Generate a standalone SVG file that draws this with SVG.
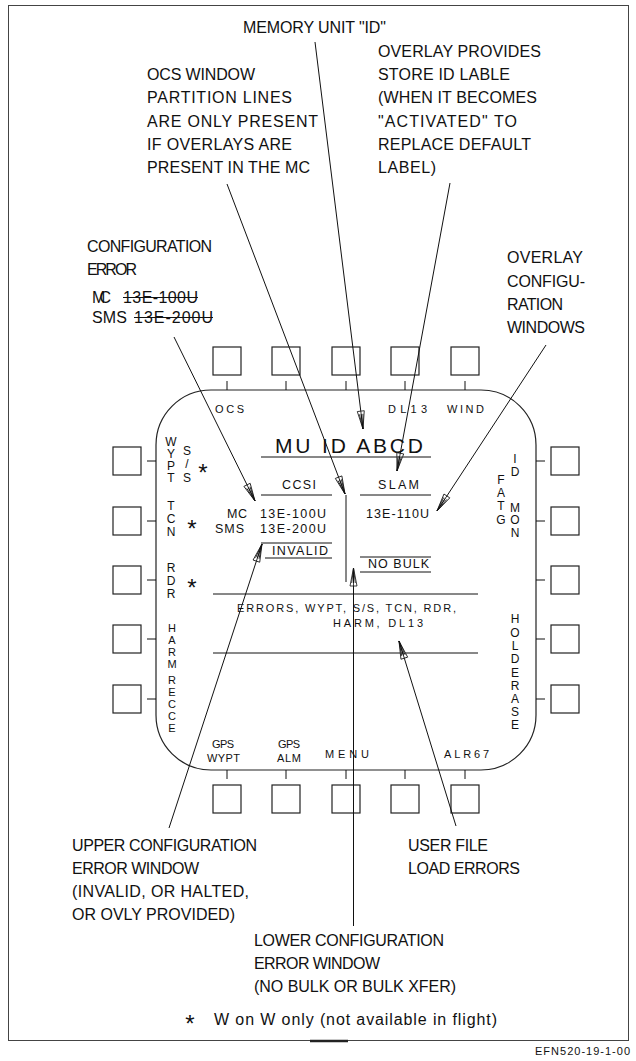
<svg xmlns="http://www.w3.org/2000/svg" width="636" height="1061" viewBox="0 0 636 1061">
<style>
text{font-family:"Liberation Sans",Arial,sans-serif;fill:#111}
.a{font-size:16px}
.s{font-size:11px}
.m{font-size:12.5px}
.v{font-size:12px;text-anchor:middle}
.v2{font-size:11px;text-anchor:middle}
.st{font-size:24px;text-anchor:middle}
.ln{stroke:#111;stroke-width:1;fill:none}
.btn{fill:#fff;stroke:#222;stroke-width:1.2}
.ld{stroke:#111;stroke-width:1;fill:none}
</style>
<defs>
<marker id="ah" markerUnits="userSpaceOnUse" markerWidth="22" markerHeight="10" viewBox="-20 -5 22 10" refX="0" refY="0" orient="auto">
<path d="M0,0 L-18,-3.5 L-18,3.5 Z M-18,0 L0,0 M-15,-1.8 L0,0 L-15,1.8" fill="#fff" stroke="#111" stroke-width="0.8"/>
</marker>
</defs>
<rect x="0" y="0" width="636" height="1061" fill="#fff"/>
<g id="frame">
<rect x="8.5" y="5.5" width="620" height="1035" fill="none" stroke="#444" stroke-width="1"/>
<line x1="310" y1="1041" x2="348" y2="1041" stroke="#222" stroke-width="2.5"/>
<text x="535" y="1055" class="s" textLength="95">EFN520-19-1-00</text>
</g>
<g id="note-memory-unit">
<text x="243" y="33" class="a" textLength="143">MEMORY UNIT "ID"</text>
</g>
<g id="note-overlay-provides">
<text x="378" y="57" class="a" textLength="163">OVERLAY PROVIDES</text>
<text x="378" y="80" class="a" textLength="132">STORE ID LABLE</text>
<text x="378" y="103" class="a" textLength="159">(WHEN IT BECOMES</text>
<text x="378" y="127" class="a" textLength="139">"ACTIVATED" TO</text>
<text x="378" y="150" class="a" textLength="153">REPLACE DEFAULT</text>
<text x="378" y="173" class="a" textLength="58">LABEL)</text>
</g>
<g id="note-ocs-window">
<text x="147" y="80" class="a" textLength="108">OCS WINDOW</text>
<text x="147" y="103" class="a" textLength="145">PARTITION LINES</text>
<text x="147" y="127" class="a" textLength="171">ARE ONLY PRESENT</text>
<text x="147" y="150" class="a" textLength="145">IF OVERLAYS ARE</text>
<text x="147" y="173" class="a" textLength="163">PRESENT IN THE MC</text>
</g>
<g id="note-config-error">
<text x="87" y="252" class="a" textLength="125">CONFIGURATION</text>
<text x="87" y="275" class="a" textLength="50">ERROR</text>
<text x="92" y="303" class="a" textLength="19">MC</text>
<text x="123" y="303" class="a" textLength="75">13E-100U</text>
<line x1="123" y1="297.5" x2="198" y2="297.5" class="ln"/>
<text x="92" y="323" class="a" textLength="35">SMS</text>
<text x="134" y="323" class="a" textLength="79">13E-200U</text>
<line x1="134" y1="317.5" x2="213" y2="317.5" class="ln"/>
</g>
<g id="note-overlay-config">
<text x="507" y="263" class="a" textLength="76">OVERLAY</text>
<text x="507" y="287" class="a" textLength="78">CONFIGU-</text>
<text x="507" y="310" class="a" textLength="56">RATION</text>
<text x="507" y="333" class="a" textLength="78">WINDOWS</text>
</g>
<g id="display">
<rect x="156" y="390" width="380" height="380" rx="55" ry="55" fill="none" stroke="#222" stroke-width="1.2"/>
<text x="215" y="413" class="s" textLength="29">OCS</text>
<text x="388" y="413" class="s" textLength="39">DL13</text>
<text x="447" y="413" class="s" textLength="37">WIND</text>
<text x="275" y="453" font-size="21" textLength="148">MU ID ABCD</text>
<line x1="261" y1="457" x2="431" y2="457" class="ln"/>
<text x="282" y="489" class="m" textLength="34">CCSI</text>
<text x="378" y="489" class="m" textLength="41">SLAM</text>
<line x1="261" y1="495" x2="332" y2="495" class="ln"/>
<line x1="360" y1="495" x2="431" y2="495" class="ln"/>
<line x1="346" y1="495" x2="346" y2="582" class="ln"/>
<text x="227" y="518" class="m" textLength="20">MC</text>
<text x="215" y="533" class="m" textLength="29">SMS</text>
<text x="260" y="518" class="m" textLength="66">13E-100U</text>
<text x="260" y="533" class="m" textLength="66">13E-200U</text>
<text x="366" y="518" class="m" textLength="63">13E-110U</text>
<line x1="261" y1="543" x2="332" y2="543" class="ln"/>
<text x="272" y="555" class="m" textLength="56">INVALID</text>
<line x1="265" y1="558" x2="332" y2="558" class="ln"/>
<line x1="360" y1="557" x2="431" y2="557" class="ln"/>
<text x="368" y="568" class="m" textLength="61">NO BULK</text>
<line x1="360" y1="572" x2="431" y2="572" class="ln"/>
<line x1="213" y1="594" x2="478" y2="594" class="ln"/>
<text x="237" y="612" class="s" textLength="219">ERRORS, WYPT, S/S, TCN, RDR,</text>
<text x="333" y="627" class="s" textLength="90">HARM, DL13</text>
<line x1="213" y1="653" x2="478" y2="653" class="ln"/>
<text class="v"><tspan x="171" y="446">W</tspan><tspan x="171" y="458">Y</tspan><tspan x="171" y="470">P</tspan><tspan x="171" y="482">T</tspan></text>
<text class="v"><tspan x="187" y="455">S</tspan><tspan x="187" y="468">/</tspan><tspan x="187" y="482">S</tspan></text>
<text x="203" y="480.5" class="st">*</text>
<text class="v"><tspan x="171" y="510">T</tspan><tspan x="171" y="523">C</tspan><tspan x="171" y="536">N</tspan></text>
<text x="192" y="536.5" class="st">*</text>
<text class="v"><tspan x="171" y="572">R</tspan><tspan x="171" y="585">D</tspan><tspan x="171" y="598">R</tspan></text>
<text x="192" y="595.5" class="st">*</text>
<text class="v2"><tspan x="172" y="632">H</tspan><tspan x="172" y="644">A</tspan><tspan x="172" y="656">R</tspan><tspan x="172" y="668">M</tspan></text>
<text class="v2"><tspan x="172" y="684">R</tspan><tspan x="172" y="696">E</tspan><tspan x="172" y="708">C</tspan><tspan x="172" y="720">C</tspan><tspan x="172" y="732">E</tspan></text>
<text class="v"><tspan x="515" y="463">I</tspan><tspan x="515" y="476">D</tspan></text>
<text class="v"><tspan x="501" y="484">F</tspan><tspan x="501" y="497">A</tspan><tspan x="501" y="510">T</tspan><tspan x="501" y="524">G</tspan></text>
<text class="v"><tspan x="515" y="512">M</tspan><tspan x="515" y="524">O</tspan><tspan x="515" y="537">N</tspan></text>
<text class="v"><tspan x="515" y="623">H</tspan><tspan x="515" y="637">O</tspan><tspan x="515" y="650">L</tspan><tspan x="515" y="663">D</tspan></text>
<text class="v"><tspan x="515" y="677">E</tspan><tspan x="515" y="690">R</tspan><tspan x="515" y="703">A</tspan><tspan x="515" y="716">S</tspan><tspan x="515" y="729">E</tspan></text>
<text x="212" y="748" class="s" textLength="22">GPS</text>
<text x="207" y="762" class="s" textLength="33">WYPT</text>
<text x="278" y="748" class="s" textLength="22">GPS</text>
<text x="277" y="762" class="s" textLength="24">ALM</text>
<text x="325" y="758" class="s" textLength="44">MENU</text>
<text x="444" y="758" class="s" textLength="45">ALR67</text>
</g>
<g id="buttons-top">
<rect x="213" y="347" width="28" height="28" class="btn"/>
<rect x="272" y="347" width="28" height="28" class="btn"/>
<rect x="332" y="347" width="28" height="28" class="btn"/>
<rect x="391" y="347" width="28" height="28" class="btn"/>
<rect x="451" y="347" width="28" height="28" class="btn"/>
<path d="M227,381V390M286,381V390M346,381V390M405,381V390M465,381V390" class="ln"/>
</g>
<g id="buttons-bottom">
<rect x="213" y="785" width="28" height="28" class="btn"/>
<rect x="272" y="785" width="28" height="28" class="btn"/>
<rect x="332" y="785" width="28" height="28" class="btn"/>
<rect x="391" y="785" width="28" height="28" class="btn"/>
<rect x="451" y="785" width="28" height="28" class="btn"/>
<path d="M227,770V779M286,770V779M346,770V779M405,770V779M465,770V779" class="ln"/>
</g>
<g id="buttons-left">
<rect x="113" y="447" width="28" height="28" class="btn"/>
<rect x="113" y="507" width="28" height="28" class="btn"/>
<rect x="113" y="566" width="28" height="28" class="btn"/>
<rect x="113" y="625" width="28" height="28" class="btn"/>
<rect x="113" y="685" width="28" height="28" class="btn"/>
<path d="M147,461H156M147,521H156M147,580H156M147,639H156M147,699H156" class="ln"/>
</g>
<g id="buttons-right">
<rect x="551" y="447" width="28" height="28" class="btn"/>
<rect x="551" y="507" width="28" height="28" class="btn"/>
<rect x="551" y="566" width="28" height="28" class="btn"/>
<rect x="551" y="625" width="28" height="28" class="btn"/>
<rect x="551" y="685" width="28" height="28" class="btn"/>
<path d="M536,461H545M536,521H545M536,580H545M536,639H545M536,699H545" class="ln"/>
</g>
<g id="note-upper-window">
<text x="72" y="851" class="a" textLength="185">UPPER CONFIGURATION</text>
<text x="72" y="874" class="a" textLength="127">ERROR WINDOW</text>
<text x="72" y="897" class="a" textLength="177">(INVALID, OR HALTED,</text>
<text x="72" y="920" class="a" textLength="163">OR OVLY PROVIDED)</text>
</g>
<g id="note-user-file">
<text x="408" y="851" class="a" textLength="80">USER FILE</text>
<text x="408" y="874" class="a" textLength="112">LOAD ERRORS</text>
</g>
<g id="note-lower-window">
<text x="254" y="946" class="a" textLength="190">LOWER CONFIGURATION</text>
<text x="254" y="969" class="a" textLength="126">ERROR WINDOW</text>
<text x="254" y="992" class="a" textLength="202">(NO BULK OR BULK XFER)</text>
</g>
<g id="footnote">
<text x="190" y="1032" class="st">*</text>
<text x="214" y="1025" class="a" textLength="283">W on W only (not available in flight)</text>
</g>
<g id="connectors">
<line x1="315" y1="42" x2="363" y2="429" class="ld" marker-end="url(#ah)"/>
<line x1="227" y1="184" x2="345" y2="494" class="ld" marker-end="url(#ah)"/>
<line x1="450" y1="183" x2="397" y2="471" class="ld" marker-end="url(#ah)"/>
<line x1="546" y1="345" x2="437" y2="511" class="ld" marker-end="url(#ah)"/>
<line x1="174" y1="337" x2="255" y2="501" class="ld" marker-end="url(#ah)"/>
<line x1="169" y1="828" x2="262" y2="544" class="ld" marker-end="url(#ah)"/>
<line x1="353.5" y1="926" x2="353.5" y2="568" class="ld" marker-end="url(#ah)"/>
<line x1="456" y1="826" x2="399" y2="641" class="ld" marker-end="url(#ah)"/>
</g>
</svg>
